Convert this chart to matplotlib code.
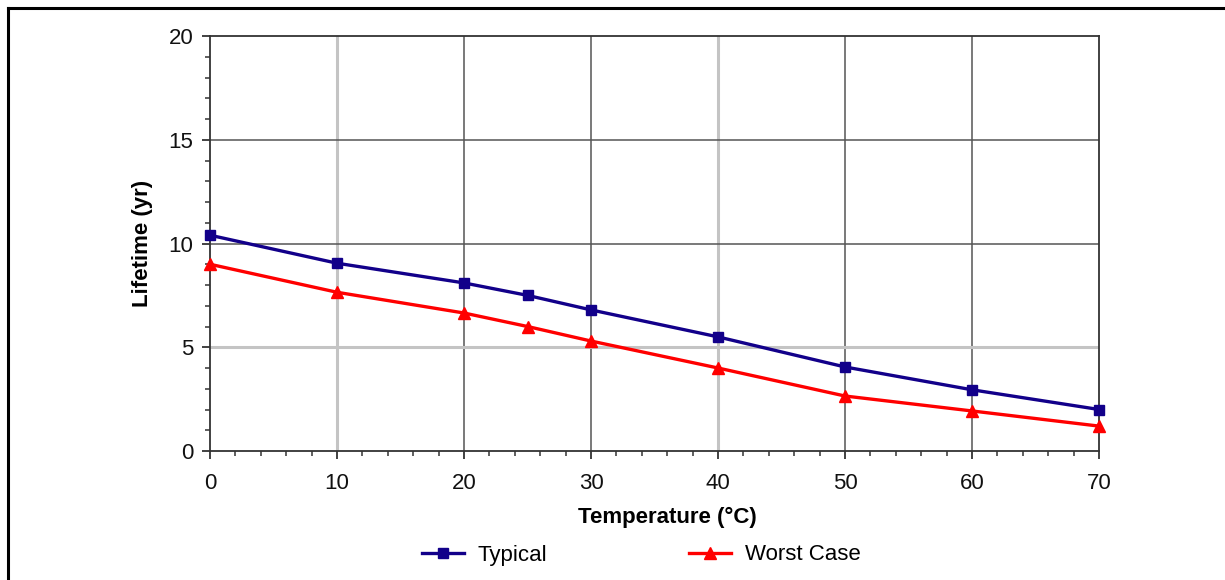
import matplotlib
matplotlib.use("Agg")
import matplotlib.pyplot as plt
from matplotlib.lines import Line2D
from matplotlib.ticker import MultipleLocator

temperature = [0, 10, 20, 25, 30, 40, 50, 60, 70]
typical = [10.4, 9.05, 8.1, 7.5, 6.8, 5.5, 4.05, 2.95, 2.0]
worst_case = [9.0, 7.65, 6.65, 6.0, 5.3, 4.0, 2.65, 1.93, 1.2]

x_ticks = [0, 10, 20, 30, 40, 50, 60, 70]
y_ticks = [0, 5, 10, 15, 20]

plt.rcParams['font.family'] = ['Liberation Sans', 'DejaVu Sans']

fig = plt.figure(figsize=(12.25, 5.8), dpi=100)
W, H = 1225, 580
ax = fig.add_axes([210 / W, 1 - 451 / H, 889 / W, 415 / H])

# grid lines (styled individually to match the reference rendering)
light = dict(color='#c4c4c4', lw=2.2, zorder=1)
dark = dict(color='#555555', lw=1.1, zorder=1)
for xv in x_ticks[1:-1]:
    style = light if xv in (10, 40) else dark
    ax.axvline(xv, **style)
for yv in y_ticks[1:-1]:
    style = light if yv == 5 else dark
    ax.axhline(yv, **style)

ax.plot(temperature, typical, color='#12008a', lw=2.4, marker='s', ms=7,
        label='Typical', zorder=3, clip_on=False)
ax.plot(temperature, worst_case, color='#ff0000', lw=2.4, marker='^', ms=8,
        label='Worst Case', zorder=3, clip_on=False)

ax.set_xlim(0, 70)
ax.set_ylim(0, 20)
ax.set_xticks(x_ticks)
ax.set_yticks(y_ticks)
ax.xaxis.set_minor_locator(MultipleLocator(2))
ax.yaxis.set_minor_locator(MultipleLocator(1))

for s in ax.spines.values():
    s.set_color('#333333')
    s.set_linewidth(1.3)

ax.tick_params(axis='both', which='major', direction='out', length=6, width=1.3,
               color='#333333', labelsize=16, labelcolor='#111111')
ax.tick_params(axis='both', which='minor', direction='out', length=3.5, width=1.1,
               color='#333333')
ax.tick_params(axis='y', which='major', pad=6)
ax.tick_params(axis='x', which='major', pad=10)

ax.set_xlabel('Temperature (°C)', fontsize=16, fontweight='bold', labelpad=9)
ax.xaxis.set_label_coords((667 - 210) / 889, -0.135)
ax.set_ylabel('Lifetime (yr)', fontsize=16, fontweight='bold', labelpad=11)

fig.legend(loc='center', bbox_to_anchor=(641 / W, 1 - 555 / H), ncol=2,
           frameon=False, fontsize=16, handlelength=1.9, columnspacing=6.4,
           handletextpad=0.6)

# outer frame (partly cropped in the reference)
fig.add_artist(Line2D([7.5 / W, 7.5 / W], [0, 1 - 7.5 / H], transform=fig.transFigure,
                      color='black', lw=2.2))
fig.add_artist(Line2D([7.5 / W, 1], [1 - 7.5 / H, 1 - 7.5 / H], transform=fig.transFigure,
                      color='black', lw=2.2))

fig.savefig('out.png', dpi=100)
